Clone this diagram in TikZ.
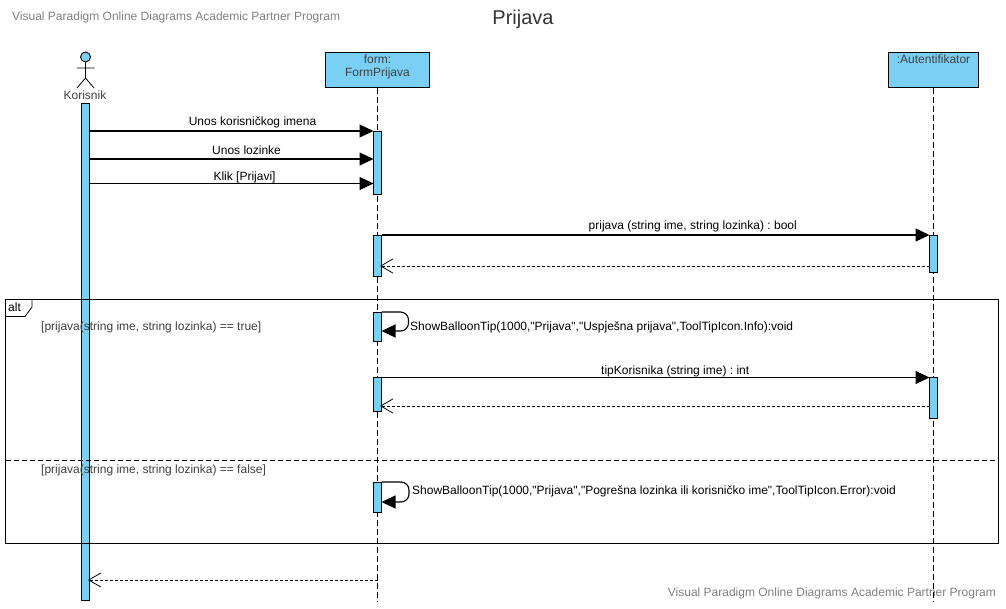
\documentclass[tikz,border=0pt]{standalone}
\usepackage{fontspec}
\setmainfont{Liberation Sans}[Ligatures=TeXOff]
\frenchspacing
\usetikzlibrary{arrows.meta}
\definecolor{barblue}{HTML}{7ACFF5}
\definecolor{markgray}{HTML}{808080}
\definecolor{guardgray}{HTML}{404040}
\tikzset{
  actbar/.style={draw,fill=barblue,line width=1pt,minimum width=8pt,inner sep=0pt,outer sep=0pt},
  objbox/.style={draw,fill=barblue,line width=1pt,inner sep=0pt,outer sep=0pt},
  lifeline/.style={line width=0.8pt,dash pattern=on 6pt off 3pt},
  msg/.style={line width=1.1pt,-{Triangle[length=14pt,width=13pt]}},
  ret/.style={line width=0.8pt,dash pattern=on 3pt off 2pt,shorten >=-1.5pt,-{Straight Barb[length=12pt,width=14pt,line width=0.8pt]}},
  selfmsg/.style={msg,rounded corners=8pt},
  lab/.style={font=\fontsize{12}{14}\selectfont,text=black,inner sep=0pt},
  guard/.style={font=\fontsize{12}{14}\selectfont,text=guardgray,inner sep=0pt,anchor=west},
  wmark/.style={font=\fontsize{12}{14}\selectfont,text=markgray,inner sep=0pt}
}
\begin{document}
\begin{tikzpicture}[x=1pt,y=-1pt]
  \useasboundingbox (0,0) rectangle (1006,608);
  \node[wmark,anchor=west] (mark_top) at (12,17.5) {Visual Paradigm Online Diagrams Academic Partner Program};
  \node[wmark,anchor=east] (mark_bot) at (996,593) {Visual Paradigm Online Diagrams Academic Partner Program};
  \node[font=\fontsize{20}{22}\selectfont,text=black!80,inner sep=0pt] (title) at (523,19) {Prijava};
  % lifeline heads
  \node[objbox,minimum width=104pt,minimum height=35pt] (form) at (377.5,70) {};
  \node[lab,text=guardgray] (form_l1) at (377.5,59.5) {form:};
  \node[lab,text=guardgray] (form_l2) at (377.5,73) {FormPrijava};
  \node[objbox,minimum width=90pt,minimum height=35pt] (auth) at (933.5,70) {};
  \node[lab,text=guardgray] (auth_l) at (933.5,59.5) {:Autentifikator};
  \coordinate (form_end) at (377.5,601);
  \coordinate (auth_end) at (933.5,601);
  \draw[lifeline] (form.south) -- (form_end);
  \draw[lifeline] (auth.south) -- (auth_end);
  % actor
  \node[draw,fill=barblue,circle,line width=0.9pt,minimum size=10pt,inner sep=0pt] (head) at (85.5,57) {};
  \coordinate (hip) at (85.5,78);
  \coordinate (arm_l) at (76.5,68);
  \coordinate (arm_r) at (94.5,68);
  \coordinate (leg_l) at (77,88);
  \coordinate (leg_r) at (94,88);
  \draw[line width=0.8pt] (head.south) -- (hip) (arm_l) -- (arm_r) (leg_l) -- (hip) -- (leg_r);
  \node[lab,text=guardgray] (kor_l) at (85,95) {Korisnik};
  % activation bars
  \node[actbar,minimum height=497pt] (kor_b) at (85.5,351.5) {};
  \node[actbar,minimum height=63pt] (form_a) at (377.5,162.5) {};
  \node[actbar,minimum height=41pt] (form_b) at (377.5,255.5) {};
  \node[actbar,minimum height=29.5pt] (form_c) at (377.5,326.75) {};
  \node[actbar,minimum height=34pt] (form_d) at (377.5,394.5) {};
  \node[actbar,minimum height=30pt] (form_e) at (377.5,497) {};
  \node[actbar,minimum height=37pt] (auth_a) at (933.5,253.5) {};
  \node[actbar,minimum height=40.5pt] (auth_b) at (933.5,397.75) {};
  % alt frame
  \node[draw,line width=1pt,minimum width=993pt,minimum height=244pt,inner sep=0pt,outer sep=0pt] (alt) at (502,421.5) {};
  \coordinate (tab_a) at (32,299.5);
  \coordinate (tab_b) at (32,307);
  \coordinate (tab_c) at (25,316.5);
  \coordinate (tab_d) at (5.5,316.5);
  \draw[line width=0.8pt] (tab_a) -- (tab_b) -- (tab_c) -- (tab_d);
  \node[lab,anchor=west] (alt_l) at (8,307) {alt};
  \coordinate (sep_l) at (5.5,460.5);
  \coordinate (sep_r) at (998.5,460.5);
  \draw[line width=0.8pt,dash pattern=on 5pt off 3pt] (sep_l) -- (sep_r);
  \node[guard] (guard_t) at (41,327.5) {[prijava(string ime, string lozinka) == true]};
  \node[guard] (guard_f) at (41,470) {[prijava(string ime, string lozinka) == false]};
  % messages
  \coordinate (m_loz) at (373.5,159);
  \coordinate (m_klik) at (373.5,183.5);
  \coordinate (r_b) at (381.5,266);
  \coordinate (r_d) at (381.5,406);
  \coordinate (r_start) at (377.5,580);
  \coordinate (r_end) at (89.5,580);
  \coordinate (s_c) at (381.5,331);
  \coordinate (s_e) at (381.5,502);
  \path (kor_b.east |- form_a.north) edge[msg] node[lab,above=2pt,pos=0.574] {Unos korisničkog imena} (form_a.north west)
        (kor_b.east |- m_loz) edge[msg] node[lab,above=3.5pt,pos=0.553] {Unos lozinke} (m_loz)
        (kor_b.east |- m_klik) edge[msg] node[lab,above=0pt,pos=0.546] {Klik [Prijavi]} (m_klik)
        (form_b.north east) edge[msg] node[lab,above=2.5pt,pos=0.568] {prijava (string ime, string lozinka) : bool} (auth_a.north west)
        (form_d.north east) edge[msg] node[lab,above=0pt,pos=0.536] {tipKorisnika (string ime) : int} (auth_b.north west)
        (auth_a.west |- r_b) edge[ret] (r_b)
        (auth_b.west |- r_d) edge[ret] (r_d)
        (r_start) edge[ret] (r_end);
  \draw[selfmsg] (form_c.north east) -- ++(27,0) -- ++(0,19) -- (s_c);
  \draw[selfmsg] (form_e.north east) -- ++(27.5,0) -- ++(0,20) -- (s_e);
  \node[lab,anchor=west] (show_c) at (410,327.5) {ShowBalloonTip(1000,"Prijava","Uspješna prijava",ToolTipIcon.Info):void};
  \node[lab,anchor=west] (show_e) at (412,491.5) {ShowBalloonTip(1000,"Prijava","Pogrešna lozinka ili korisničko ime",ToolTipIcon.Error):void};
\end{tikzpicture}
\end{document}
